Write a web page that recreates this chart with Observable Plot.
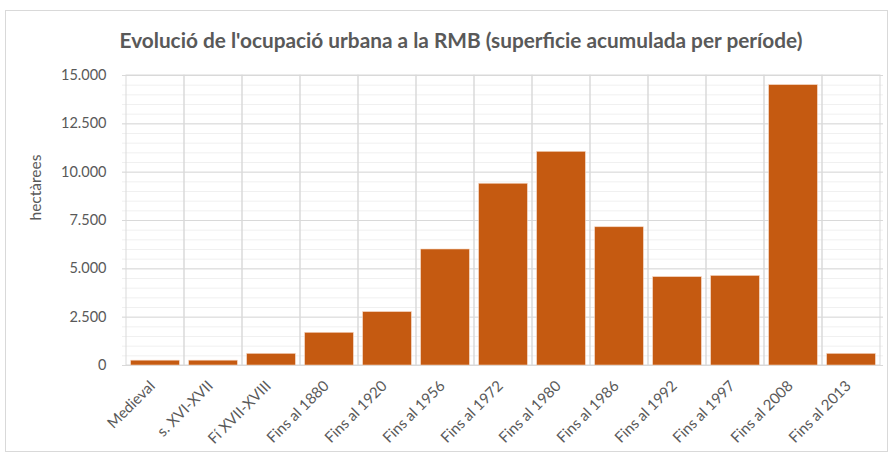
<!DOCTYPE html>
<html><head><meta charset="utf-8">
<script src="https://cdn.jsdelivr.net/npm/d3@7"></script>
<script src="https://cdn.jsdelivr.net/npm/@observablehq/plot@0.6"></script>
<style>
body{margin:0;background:#fff;}
#wrap{position:relative;width:891px;height:454px;overflow:hidden;font-family:Lato,sans-serif;}
#border{position:absolute;left:5px;top:10px;width:881px;height:440px;border:1px solid #d9d9d9;}
#title{position:absolute;left:0;top:27px;width:922px;text-align:center;font-weight:bold;font-size:20.8px;color:#595959;}
#chart{position:absolute;left:0;top:0;}
</style></head><body>
<div id="wrap"><div id="border"></div><div id="chart"></div><div id="title">Evolució de l'ocupació urbana a la RMB (superficie acumulada per període)</div></div>
<script>
const categories = ["Medieval","s. XVI-XVII","Fí XVII-XVIII","Fins al 1880","Fins al 1920","Fins al 1956","Fins al 1972","Fins al 1980","Fins al 1986","Fins al 1992","Fins al 1997","Fins al 2008","Fins al 2013"];
const values = [250,250,600,1690,2760,6000,9400,11050,7150,4570,4630,14500,600];
const yTicks = [0,2500,5000,7500,10000,12500,15000];
const minorTicks = d3.range(0,15001,500);
const yLabel = "hectàrees";

const data = categories.map((c,i)=>({cat:c, value:values[i]}));
const fmt = d3.formatLocale({decimal:",", thousands:".", grouping:[3], currency:["","€"]}).format(",");

const chart = Plot.plot({
  width:891, height:454,
  marginLeft:122, marginRight:8, marginTop:75, marginBottom:89,
  style:{fontFamily:"Lato, sans-serif", fontSize:"14px", color:"#595959", background:"transparent"},
  x:{domain:categories, padding:0},
  y:{domain:[0,15000]},
  marks:[
    Plot.ruleY(minorTicks,{stroke:"#f0f0f0", strokeWidth:1}),
    Plot.ruleY(yTicks,{stroke:"#d9d9d9", strokeWidth:1}),
    Plot.cell(categories,{x:d=>d, fill:"none", stroke:"#d9d9d9", strokeWidth:1}),
    Plot.barY(data,{x:"cat", y:"value", fill:"#C55A11", stroke:"#f4d3bd", strokeWidth:0.6, insetLeft:4.7, insetRight:4.7}),
    Plot.axisY({ticks:yTicks, tickFormat:fmt, tickSize:0, tickPadding:16, label:null, fill:"#595959", fontSize:14.5}),
    Plot.axisX({tickSize:0, tickRotate:-45, tickPadding:18, dx:-3, label:null, fill:"#595959", fontSize:15}),
    Plot.text([yLabel],{frameAnchor:"left", dx:-86, rotate:-90, fill:"#595959", fontSize:15.5})
  ]
});
document.getElementById("chart").appendChild(chart);
</script></body></html>
